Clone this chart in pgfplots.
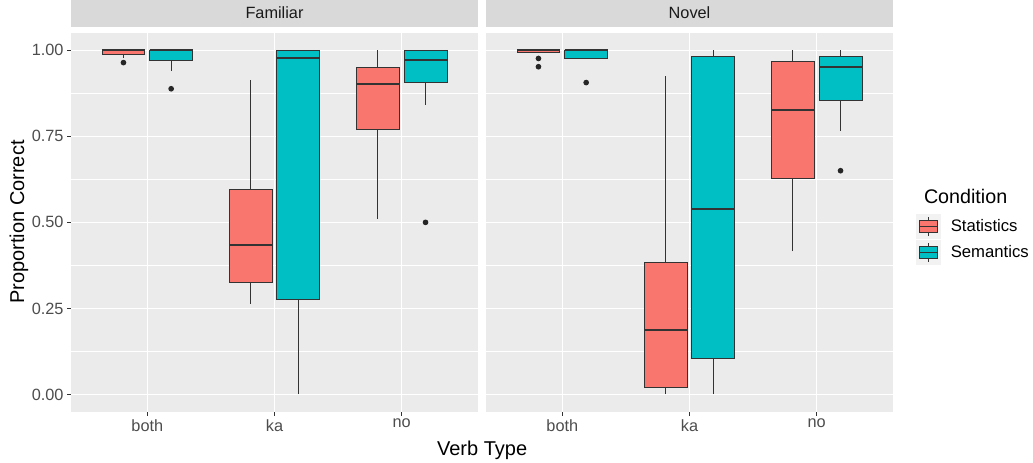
\documentclass[border=0pt]{standalone}
\usepackage{fontspec}
\setmainfont{Liberation Sans}
\usepackage{pgfplots}
\pgfplotsset{compat=1.18}
\usepgfplotslibrary{statistics}
\definecolor{statred}{HTML}{F8766D}
\definecolor{semcyan}{HTML}{00BFC4}
\definecolor{panelgray}{HTML}{EBEBEB}
\definecolor{stripgray}{HTML}{D9D9D9}
\definecolor{ticklab}{HTML}{4D4D4D}
\definecolor{boxdraw}{HTML}{333333}
\definecolor{outl}{HTML}{262626}
\definecolor{keybg}{HTML}{F2F2F2}
\definecolor{striptext}{HTML}{1A1A1A}
\newcommand{\tickfont}{\fontsize{16.3bp}{19bp}\selectfont}
\newcommand{\titlefont}{\fontsize{20bp}{24bp}\selectfont}
\pgfplotsset{
  ggpanel/.style={
    scale only axis,
    width=407bp, height=378.7bp,
    xmin=0.4, xmax=3.6, ymin=-0.05, ymax=1.05,
    clip=false,
    axis background/.style={fill=panelgray},
    axis line style={draw=none},
    xtick={1,2,3}, xticklabels={both,ka,no},
    ytick={0,0.25,0.5,0.75,1},
    minor ytick={0.125,0.375,0.625,0.875},
    grid=both,
    major grid style={white, line width=1.1bp},
    minor grid style={white, line width=0.55bp},
    tick align=outside, major tick length=4bp, minor tick length=0bp,
    tick style={boxdraw, line width=0.9bp},
    xtick pos=bottom, ytick pos=left,
    tick label style={font=\tickfont, text=ticklab},
    title style={at={(0.5,1)}, anchor=south, yshift=0bp, fill=stripgray,
      minimum width=407bp, minimum height=28bp, inner sep=0bp,
      text=striptext, font=\tickfont},
    boxplot/draw direction=y,
    boxplot/box extend=0.3375,
    boxplot/whisker extend=0,
    boxplot/every median/.style={line width=2bp},
  },
  ggbox/.style={draw=boxdraw, line width=1bp, solid, mark=*, mark size=2.3bp,
    mark options={draw=outl, fill=outl, solid}, forget plot},
}
\begin{document}
\begin{tikzpicture}
\path[use as bounding box] (0,0) rectangle (1033bp,463bp);
% ---------------- Familiar ----------------
\begin{axis}[ggpanel, at={(71bp,51.3bp)}, anchor=south west,
  title={Familiar},
  yticklabels={0.00,0.25,0.50,0.75,1.00}]
\addplot+[ggbox, fill=statred, boxplot prepared={draw direction=y, draw position=0.8125,
  lower whisker=0.978, lower quartile=0.988, median=1.0, upper quartile=1.0, upper whisker=1.0}]
  table[row sep=\\, y index=0] {v\\ 0.964\\};
\addplot+[ggbox, fill=semcyan, boxplot prepared={draw direction=y, draw position=1.1875,
  lower whisker=0.941, lower quartile=0.970, median=1.0, upper quartile=1.0, upper whisker=1.0}]
  table[row sep=\\, y index=0] {v\\ 0.888\\};
\addplot+[ggbox, fill=statred, boxplot prepared={draw direction=y, draw position=1.8125,
  lower whisker=0.263, lower quartile=0.325, median=0.433, upper quartile=0.596, upper whisker=0.913}]
  coordinates {};
\addplot+[ggbox, fill=semcyan, boxplot prepared={draw direction=y, draw position=2.1875,
  lower whisker=0.0, lower quartile=0.277, median=0.978, upper quartile=1.0, upper whisker=1.0}]
  coordinates {};
\addplot+[ggbox, fill=statred, boxplot prepared={draw direction=y, draw position=2.8125,
  lower whisker=0.509, lower quartile=0.769, median=0.901, upper quartile=0.951, upper whisker=1.0}]
  coordinates {};
\addplot+[ggbox, fill=semcyan, boxplot prepared={draw direction=y, draw position=3.1875,
  lower whisker=0.841, lower quartile=0.907, median=0.971, upper quartile=1.0, upper whisker=1.0}]
  table[row sep=\\, y index=0] {v\\ 0.5\\};
\end{axis}
% ---------------- Novel ----------------
\begin{axis}[ggpanel, at={(486bp,51.3bp)}, anchor=south west,
  title={Novel},
  yticklabels={}, y tick style={draw=none},
  legend style={at={(1.0557,0.522)}, anchor=north west, draw=none, fill=none,
    inner sep=0bp, row sep=1.5bp, font=\fontsize{16.7bp}{19bp}\selectfont,
    /tikz/every odd column/.append style={column sep=8.5bp}},
  legend cell align=left]
\addplot+[ggbox, fill=statred, boxplot prepared={draw direction=y, draw position=0.8125,
  lower whisker=0.994, lower quartile=0.994, median=1.0, upper quartile=1.0, upper whisker=1.0}]
  table[row sep=\\, y index=0] {v\\ 0.976\\ 0.952\\};
\addplot+[ggbox, fill=semcyan, boxplot prepared={draw direction=y, draw position=1.1875,
  lower whisker=0.975, lower quartile=0.975, median=1.0, upper quartile=1.0, upper whisker=1.0}]
  table[row sep=\\, y index=0] {v\\ 0.906\\};
\addplot+[ggbox, fill=statred, boxplot prepared={draw direction=y, draw position=1.8125,
  lower whisker=0.0, lower quartile=0.021, median=0.187, upper quartile=0.382, upper whisker=0.924}]
  coordinates {};
\addplot+[ggbox, fill=semcyan, boxplot prepared={draw direction=y, draw position=2.1875,
  lower whisker=0.0, lower quartile=0.104, median=0.540, upper quartile=0.981, upper whisker=1.0}]
  coordinates {};
\addplot+[ggbox, fill=statred, boxplot prepared={draw direction=y, draw position=2.8125,
  lower whisker=0.416, lower quartile=0.626, median=0.827, upper quartile=0.966, upper whisker=1.0}]
  coordinates {};
\addplot+[ggbox, fill=semcyan, boxplot prepared={draw direction=y, draw position=3.1875,
  lower whisker=0.766, lower quartile=0.855, median=0.950, upper quartile=0.981, upper whisker=1.0}]
  table[row sep=\\, y index=0] {v\\ 0.650\\};
\addlegendimage{legend image code/.code={
  \fill[keybg] (0bp,-12bp) rectangle (24bp,12bp);
  \draw[boxdraw, line width=1bp] (12bp,-9.6bp) -- (12bp,-6bp) (12bp,6bp) -- (12bp,9.6bp);
  \draw[boxdraw, fill=statred, line width=1bp] (3bp,-6bp) rectangle (21bp,6bp);
  \draw[boxdraw, line width=1.6bp] (3bp,0bp) -- (21bp,0bp);}}
\addlegendentry{Statistics}
\addlegendimage{legend image code/.code={
  \fill[keybg] (0bp,-12bp) rectangle (24bp,12bp);
  \draw[boxdraw, line width=1bp] (12bp,-9.6bp) -- (12bp,-6bp) (12bp,6bp) -- (12bp,9.6bp);
  \draw[boxdraw, fill=semcyan, line width=1bp] (3bp,-6bp) rectangle (21bp,6bp);
  \draw[boxdraw, line width=1.6bp] (3bp,0bp) -- (21bp,0bp);}}
\addlegendentry{Semantics}
\node[anchor=base west, font=\fontsize{19.7bp}{23bp}\selectfont, inner sep=0bp]
  at (axis description cs:1.0757,0.549) {Condition};
\end{axis}
\node[anchor=base, font=\titlefont, inner sep=0bp] at (482.1bp,7.5bp) {Verb Type};
\node[anchor=base, rotate=90, font=\titlefont, inner sep=0bp] at (24bp,241bp) {Proportion Correct};
\end{tikzpicture}
\end{document}
